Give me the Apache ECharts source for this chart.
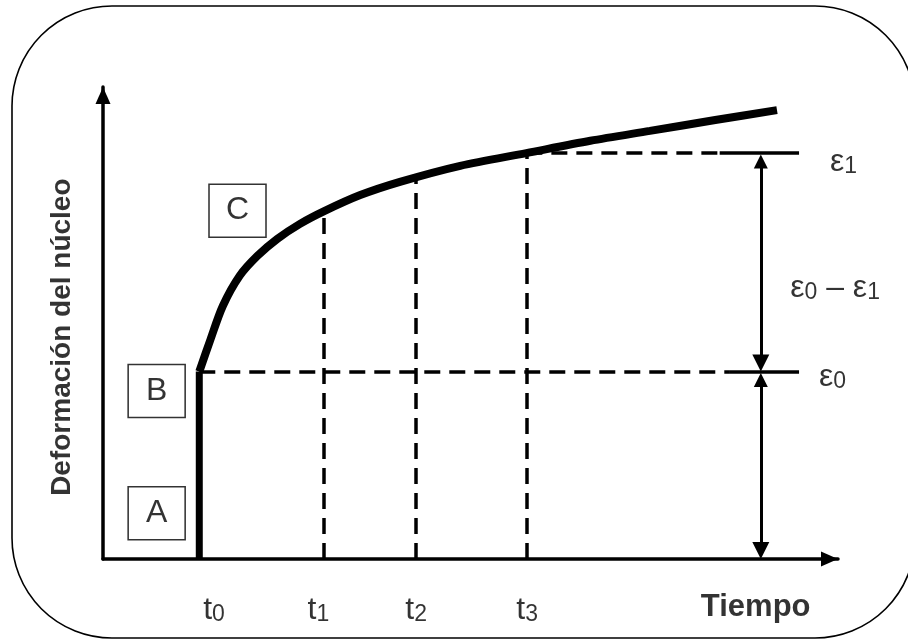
<!DOCTYPE html>
<html>
<head>
<meta charset="utf-8">
<script src="https://cdn.jsdelivr.net/npm/echarts@6/dist/echarts.min.js"></script>
<style>
  html, body { margin: 0; padding: 0; background: #fff; }
  #chart { width: 908px; height: 641px; }
</style>
</head>
<body>
<div id="chart"></div>
<script>
// diagram units: time 0..10 on x, core deformation 0..10 on y
const timeMarks = [1.31, 3.01, 4.26, 5.76];      // t0 .. t3
const timeSubs = ['0', '1', '2', '3'];
const timeLabelX = [1.51, 2.93, 4.26, 5.77];
const curveX = [1.31, 1.46, 1.63, 1.86, 2.10, 2.37, 2.68, 3.01, 3.50, 4.04, 4.86, 5.76, 6.63, 7.44, 8.33, 9.17];
const curveY = [3.97, 4.64, 5.36, 6.00, 6.42, 6.78, 7.10, 7.37, 7.71, 7.99, 8.33, 8.60, 8.86, 9.07, 9.30, 9.51];
const dropY = [7.37, 8.08, 8.60];                 // curve height at t1, t2, t3
const eps0 = 3.97;
const eps1 = 8.60;
const levelSolidFrom = [8.53, 8.39];             // eps0, eps1 dashed -> solid
const levelEnd = 9.47;
const arrowX = 8.95;
const boxNames = ['A', 'B', 'C'];
const boxX = [0.73, 0.73, 1.83];
const boxY = [0.97, 3.56, 7.38];

const FONT = 'Liberation Sans, Arial, sans-serif';
const HEAD = 17;          // arrow head length, px
const PX_PER_Y = 47.2;    // plot height 472px over 10 units

const myChart = echarts.init(document.getElementById('chart'));

const rich = {
    m: { fontSize: 32, fontFamily: FONT, color: '#000', lineHeight: 36 },
    s: { fontSize: 23, fontFamily: FONT, color: '#000', lineHeight: 23, padding: [10, 0, 0, 0] }
};

// dashed guides
let dashed = [];
timeMarks.slice(1).forEach((t, i) => {
    dashed.push({ coords: [[t, 0], [t, dropY[i]]] });
});
dashed.push({ coords: [[timeMarks[0], eps0], [levelSolidFrom[0], eps0]] });
dashed.push({ coords: [[timeMarks[3], eps1], [levelSolidFrom[1], eps1]] });

let solid = [
    { coords: [[levelSolidFrom[0], eps0], [levelEnd, eps0]] },
    { coords: [[levelSolidFrom[1], eps1], [levelEnd, eps1]] }
];

// heads are centred on the line ends, pull them in so the tips touch
const h = HEAD / 2 / PX_PER_Y;
let arrows = [
    { coords: [[arrowX, eps1 - h], [arrowX, eps0 + h]] },
    { coords: [[arrowX, eps0 - h], [arrowX, 0 + h]] }
];

let textItems = timeSubs.map((s, i) => ({
    value: [timeLabelX[i], -1.08],
    label: { formatter: '{m|t}{s|' + s + '}' }
}));
textItems.push({
    value: [8.88, -1.02],
    label: { formatter: 'Tiempo', fontSize: 31, fontWeight: 'bold', fontFamily: FONT, color: '#000' }
});
textItems.push({
    value: [-0.56, 4.70],
    label: { formatter: 'Deformación del núcleo', rotate: 90, fontSize: 28, fontWeight: 'bold', fontFamily: FONT, color: '#000' }
});

let epsItems = [
    { value: [9.89, 8.41], label: { formatter: '{m|ε}{s|1}' } },
    { value: [9.74, 3.86], label: { formatter: '{m|ε}{s|0}' } },
    { value: [9.35, 5.74], label: { formatter: '{m|ε}{s|0}{m| – ε}{s|1}' } }
];

const axisCommon = {
    type: 'value',
    min: 0,
    max: 10,
    axisLine: {
        show: true,
        symbol: ['none', 'triangle'],
        symbolSize: [15, HEAD],
        symbolOffset: [0, -HEAD / 2],
        lineStyle: { color: '#000', width: 3.5 }
    },
    axisTick: { show: false },
    axisLabel: { show: false },
    splitLine: { show: false }
};

myChart.setOption({
    animation: false,
    backgroundColor: '#fff',
    grid: { left: 103, top: 87, right: 70, bottom: 82 },
    xAxis: axisCommon,
    yAxis: axisCommon,
    graphic: [{
        type: 'rect',
        shape: { x: 12, y: 6, width: 903, height: 632, r: 100 },
        style: { fill: 'none', stroke: '#000', lineWidth: 1.6 },
        z: 0
    }],
    series: [
        {
            type: 'lines',
            coordinateSystem: 'cartesian2d',
            data: dashed,
            lineStyle: { color: '#000', width: 3.5, type: [16, 9], opacity: 1 },
            z: 2
        },
        {
            type: 'lines',
            coordinateSystem: 'cartesian2d',
            data: solid,
            lineStyle: { color: '#000', width: 3.5, opacity: 1 },
            z: 2
        },
        {
            type: 'lines',
            coordinateSystem: 'cartesian2d',
            data: arrows,
            symbol: ['triangle', 'triangle'],
            symbolSize: [14, HEAD],
            lineStyle: { color: '#000', width: 3, opacity: 1 },
            z: 3
        },
        {
            // instantaneous strain A -> B
            type: 'line',
            data: [[timeMarks[0], 0], [timeMarks[0], eps0]],
            symbol: 'none',
            lineStyle: { color: '#000', width: 7 },
            z: 4
        },
        {
            // creep curve B -> C
            type: 'line',
            data: curveX.map((x, i) => [x, curveY[i]]),
            smooth: 0.3,
            symbol: 'none',
            lineStyle: { color: '#000', width: 8, cap: 'butt' },
            z: 4
        },
        {
            type: 'scatter',
            data: boxNames.map((n, i) => ({ name: n, value: [boxX[i], boxY[i]] })),
            symbol: 'rect',
            symbolSize: [57, 53],
            itemStyle: { color: '#fff', borderColor: '#000', borderWidth: 1.5 },
            label: {
                show: true, position: 'inside', formatter: '{b}',
                fontSize: 32, fontFamily: FONT, color: '#000'
            },
            clip: false,
            z: 5
        },
        {
            type: 'scatter',
            data: textItems,
            symbolSize: 0,
            label: { show: true, position: 'inside', rich: rich },
            clip: false,
            silent: true,
            z: 5
        },
        {
            type: 'scatter',
            data: epsItems,
            symbolSize: 0,
            label: { show: true, position: 'right', distance: 0, rich: rich },
            clip: false,
            silent: true,
            z: 5
        }
    ]
});

window.addEventListener('resize', () => {
    myChart.resize();
});
</script>
</body>
</html>
